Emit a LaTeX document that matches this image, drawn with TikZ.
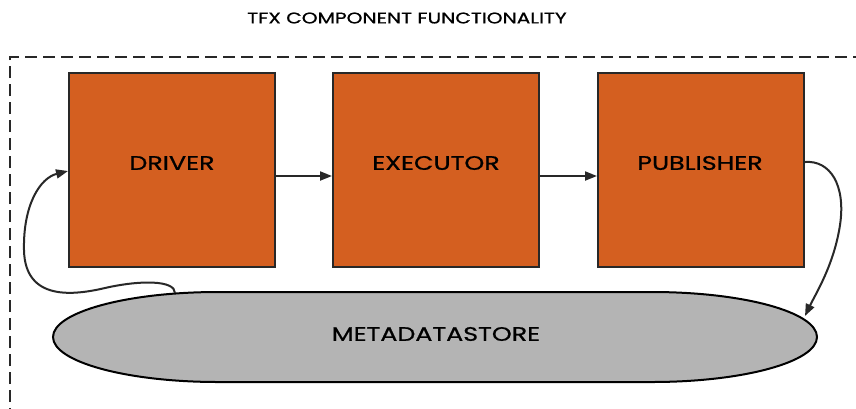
\documentclass[tikz,border=0pt]{standalone}
\usepackage{fontspec}
\newfontfamily\tfxfont[FakeStretch=1.3,FakeBold=0.9]{Poppins}
\usetikzlibrary{arrows.meta,calc}
\definecolor{boxorange}{RGB}{212,95,32}
\definecolor{storegray}{RGB}{180,180,180}
\definecolor{edgedark}{RGB}{40,40,40}
\tikzset{
  compbox/.style={draw=edgedark, line width=2pt, fill=boxorange, minimum width=206pt, minimum height=194pt, inner sep=0pt, anchor=north west},
  lbl/.style={font=\tfxfont\fontsize{19.5}{21}\selectfont, text=black, inner sep=0pt},
  conn/.style={draw=edgedark, line width=2pt, -{Triangle[length=12pt,width=9pt]}},
}
\begin{document}
\begin{tikzpicture}[x=1pt,y=-1pt]
\useasboundingbox (0,0) rectangle (856,408);
\fill[white] (0,0) rectangle (856,408);
% dashed frame (runs off the right and bottom)
\draw[edgedark, line width=2pt, dash pattern=on 12pt off 6pt] (10,420) -- (10,57) -- (870,57);
% title
\node[font=\tfxfont\fontsize{15.5}{18}\selectfont, inner sep=0pt] (title) at (407,18) {TFX COMPONENT FUNCTIONALITY};
% boxes
\node[compbox] (d) at (68,72) {};
\node[compbox] (e) at (332,72) {};
\node[compbox] (p) at (597,72) {};
\node[lbl] (dl) at (172,163) {DRIVER};
\node[lbl] (el) at (436,163) {EXECUTOR};
\node[lbl] (pl) at (700,163) {PUBLISHER};
% metadata store
\draw[black, line width=2pt, fill=storegray]
  (218,292) -- (652,292) arc[start angle=-90, end angle=90, x radius=165, y radius=45]
  -- (218,382) arc[start angle=90, end angle=270, x radius=165, y radius=45] -- cycle;
\node[lbl] (m) at (436,334) {METADATASTORE};
\coordinate (mtop) at (175,293);
\coordinate (mright) at (805,316);
% connectors
\draw[conn] ($(d.east)+(0,6)$) -- ($(e.west)+(0,6)$);
\draw[conn] ($(e.east)+(0,6)$) -- ($(p.west)+(0,6)$);
\draw[conn] ($(p.east)+(0,-8)$) .. controls (830,160) and (846,185) .. (840,225)
  .. controls (834,265) and (815,295) .. (mright);
\draw[conn] (mtop) .. controls (175,280) and (140,280) .. (105,288)
  .. controls (75,295) and (25,302) .. (24,250)
  .. controls (23,205) and (40,178) .. ($(d.west)+(0,1)$);
\end{tikzpicture}
\end{document}
